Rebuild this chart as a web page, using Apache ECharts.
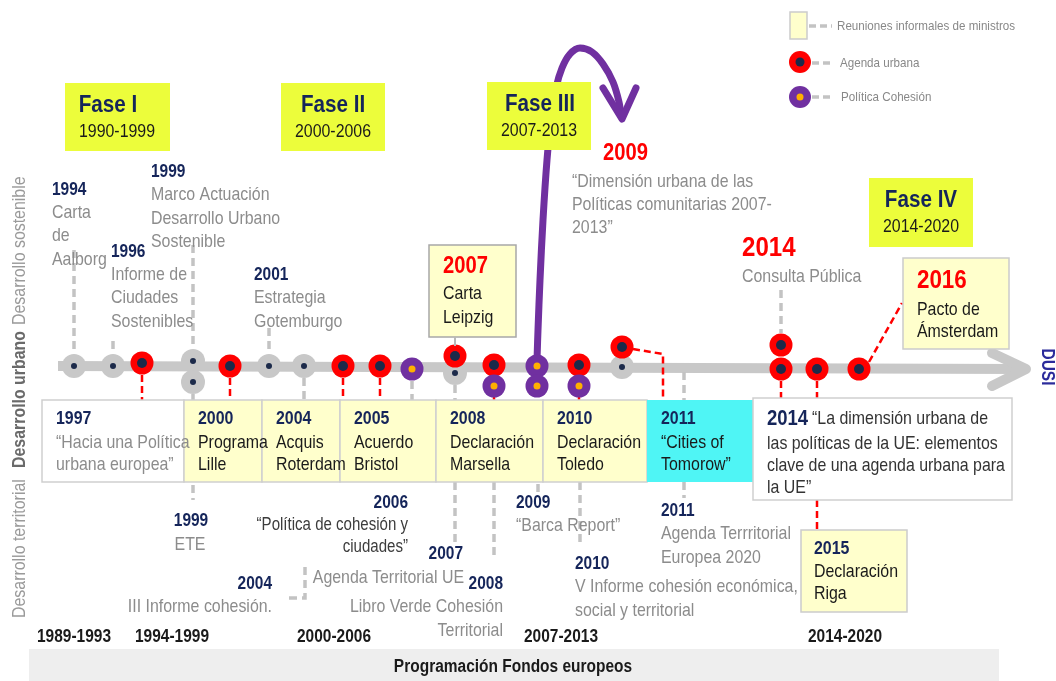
<!DOCTYPE html>
<html><head><meta charset="utf-8">
<script src="https://cdn.jsdelivr.net/npm/echarts@6/dist/echarts.min.js"></script>
<style>html,body{margin:0;padding:0;background:#fff}#c{width:1056px;height:681px}</style>
</head><body><div id="c"></div>
<script>
// ---- DATA (timeline positions along the drawing's own axes) ----
const timelineBar = [[58, 366], [1020, 369]];
const timelineArrow = [[992, 353], [1026, 369], [992, 386]];
const informalEvents = [[74,366],[113,366],[193,361],[193,382],[269,366],[304,366],[455,373],[622,367]];
const urbanAgendaEvents = [[142,363],[230,366],[343,366],[380,366],[455,356],[494,365],[579,365],[622,347],[781,345],[781,369],[817,369],[859,369]];
const cohesionEvents = [[412,369],[494,386],[537,366],[537,386],[579,386]];
const cohesionCurve = [[537,360],[538,330],[540,280],[543,220],[547,160],[551,120],[556,88],[562,68],[570,54],[580,48],[592,52],[603,64],[613,82],[619,102],[621,116]];
const cohesionArrowHead = [[603,88],[622,119],[636,88]];
const grayLinks = [
  [[74,250],[74,354]], [[113,341],[113,354]], [[193,245],[193,349]], [[269,328],[269,354]],
  [[193,394],[193,400]], [[304,378],[304,400]], [[412,381],[412,400]], [[455,385],[455,400]],
  [[193,485],[193,500]], [[455,482],[455,547]], [[494,482],[494,557]], [[538,484],[538,493]],
  [[580,482],[580,545]], [[684,372],[684,400]], [[684,482],[684,498]],
  [[781,290],[781,333]], [[305,567],[305,598],[285,598]]
];
const redLinks = [
  [[142,375],[142,400]], [[230,378],[230,400]], [[343,378],[343,400]], [[380,378],[380,400]],
  [[494,396],[494,400]], [[579,396],[579,400]], [[633,349],[663,354],[663,400]],
  [[781,381],[781,398]], [[817,381],[817,398]], [[817,500],[817,530]], [[869,362],[902,303]]
];
const phaseNames = ['Fase I', 'Fase II', 'Fase III', 'Fase IV'];
const phaseYears = ['1990-1999', '2000-2006', '2007-2013', '2014-2020'];
const periodLabels = ['1989-1993', '1994-1999', '2000-2006', '2007-2013', '2014-2020'];
const legendLabels = ['Reuniones informales de ministros', 'Agenda urbana', 'Política Cohesión'];
const bandLabel = 'Programación Fondos europeos';

// ---- STYLE / LAYOUT ----
const FF = "'Liberation Sans', Arial, sans-serif";
const SX = 0.86;
const NAVY = '#15255a', GRAY = '#8c8c8c', BLACK = '#1a1a1a', RED = '#ff0000', PURPLE = '#7030a0';
const BOXY = '#ffffcc', PHASE = '#ecfd3b', CYAN = '#4ff5f5';
function T(x, y, text, size, color, o) {
  o = o || {};
  const al = o.align || 'left';
  return { type: 'text', x: x, y: y, scaleX: o.sx || SX, rotation: o.rot || 0, z: 30,
    style: { text: text, fill: color, font: (o.bold ? 'bold ' : '') + size + 'px ' + FF,
      textAlign: al, align: al, textVerticalAlign: 'middle', verticalAlign: 'middle' } };
}
function L(x, y0, lh, arr, size, color, o) {
  return arr.map((s, i) => T(x, y0 + i * lh, s, size, color, o));
}
function R(x, y, w, h, fill, stroke, z) {
  return { type: 'rect', z: z || 20, shape: { x: x, y: y, width: w, height: h },
    style: { fill: fill, stroke: stroke || null, lineWidth: stroke ? 1.5 : 0 } };
}
function C(cx, cy, r, fill) { return { type: 'circle', z: 30, shape: { cx: cx, cy: cy, r: r }, style: { fill: fill } }; }
function DL(x1, y1, x2, y2) { return { type: 'line', z: 25, shape: { x1, y1, x2, y2 }, style: { stroke: '#c3c3c3', lineWidth: 3.5, lineDash: [7, 4] } }; }

const g = [];
// phase boxes
const phaseBoxes = [[65,83,105,68],[281,83,104,68],[487,82,104,68],[869,178,104,69]];
const phaseTitleX = [108, 333, 540, 921], phaseYearX = [117, 333, 539, 921];
phaseBoxes.forEach((b, i) => {
  g.push(R(b[0], b[1], b[2], b[3], PHASE, null, 40));
  const t1 = T(phaseTitleX[i], b[1] + 22, phaseNames[i], 24, NAVY, { bold: true, align: 'center' }); t1.z = 41; g.push(t1);
  const t2 = T(phaseYearX[i], b[1] + 49, phaseYears[i], 18.5, BLACK, { align: 'center' }); t2.z = 41; g.push(t2);
});
// legend
g.push(R(790, 12, 17, 27, BOXY, '#cccccc', 30));
g.push(DL(809, 26, 832, 26));
g.push(T(837, 26, legendLabels[0], 13.5, '#888', {}));
g.push(C(800, 62, 11, RED)); g.push(C(800, 62, 4.5, '#1c2a4a'));
g.push(DL(812, 63, 832, 63));
g.push(T(840, 63, legendLabels[1], 13.5, '#888', {}));
g.push(C(800, 97, 11, PURPLE)); g.push(C(800, 97, 3.5, '#ffb000'));
g.push(DL(812, 97, 832, 97));
g.push(T(841, 97, legendLabels[2], 13.5, '#888', {}));
// left vertical label
g.push(T(20, 618, 'Desarrollo territorial', 18.5, '#9a9a9a', { rot: Math.PI / 2 }));
g.push(T(20, 468, 'Desarrollo urbano', 18.5, '#6a6a6a', { rot: Math.PI / 2, bold: true }));
g.push(T(20, 325, 'Desarrollo sostenible', 18.5, '#9a9a9a', { rot: Math.PI / 2 }));
// DUSI
g.push(T(1047, 367, 'DUSI', 18, '#2b2b9b', { rot: -Math.PI / 2, bold: true, align: 'center' }));
// upper texts
g.push(T(52, 190, '1994', 18, NAVY, { bold: true }));
g.push(...L(52, 213, 23.3, ['Carta', 'de', 'Aalborg'], 18.5, GRAY));
g.push(T(111, 252, '1996', 18, NAVY, { bold: true }));
g.push(...L(111, 275, 23.3, ['Informe de', 'Ciudades', 'Sostenibles'], 18.5, GRAY));
g.push(T(151, 172, '1999', 18, NAVY, { bold: true }));
g.push(...L(151, 195, 23.5, ['Marco Actuación', 'Desarrollo Urbano', 'Sostenible'], 18.5, GRAY));
g.push(T(254, 275, '2001', 18, NAVY, { bold: true }));
g.push(...L(254, 298, 23.5, ['Estrategia', 'Gotemburgo'], 18.5, GRAY));
g.push(R(429, 245, 87, 92, BOXY, '#a8a8a8'));
g.push({ type: 'line', z: 25, shape: { x1: 455, y1: 337, x2: 455, y2: 346 }, style: { stroke: '#b8b8b8', lineWidth: 2 } });
g.push(T(443, 267, '2007', 23.5, RED, { bold: true }));
g.push(...L(443, 294, 24, ['Carta', 'Leipzig'], 18.5, BLACK));
g.push(T(603, 154, '2009', 23.5, RED, { bold: true }));
g.push(...L(572, 182, 23, ['“Dimensión urbana de las', 'Políticas comunitarias 2007-', '2013”'], 18.5, GRAY));
g.push(T(742, 248, '2014', 28, RED, { bold: true }));
g.push(T(742, 277, 'Consulta Pública', 18.5, GRAY));
g.push(R(903, 258, 106, 91, BOXY, '#cccccc'));
g.push(T(917, 281, '2016', 26, RED, { bold: true }));
g.push(...L(917, 310, 22, ['Pacto de', 'Ámsterdam'], 18.5, BLACK));
// lower boxes
const lowBoxes = [
  [42, 142, '#ffffff', '1997', ['“Hacia una Política', 'urbana europea”'], GRAY],
  [184, 78, BOXY, '2000', ['Programa', 'Lille'], BLACK],
  [262, 78, BOXY, '2004', ['Acquis', 'Roterdam'], BLACK],
  [340, 96, BOXY, '2005', ['Acuerdo', 'Bristol'], BLACK],
  [436, 107, BOXY, '2008', ['Declaración', 'Marsella'], BLACK],
  [543, 104, BOXY, '2010', ['Declaración', 'Toledo'], BLACK],
  [647, 106, CYAN, '2011', ['“Cities of', 'Tomorow”'], BLACK]
];
lowBoxes.forEach(b => {
  g.push(R(b[0], 400, b[1], 82, b[2], b[2] === CYAN ? null : '#cfcfcf'));
  g.push(T(b[0] + 14, 419, b[3], 18.5, NAVY, { bold: true }));
  g.push(...L(b[0] + 14, 443, 21.5, b[4], 18.5, b[5]));
});
g.push(R(753, 398, 259, 102, '#ffffff', '#cfcfcf'));
g.push(T(767, 419, '2014', 21.5, NAVY, { bold: true }));
g.push(T(812, 419, '“La dimensión urbana de', 18.5, '#333333'));
g.push(...L(767, 444, 22, ['las políticas de la UE: elementos', 'clave de una agenda urbana para', 'la UE”'], 18.5, '#333333'));
g.push(R(801, 530, 106, 82, BOXY, '#cccccc'));
g.push(T(814, 549, '2015', 18.5, NAVY, { bold: true }));
g.push(...L(814, 572, 22, ['Declaración', 'Riga'], 18.5, BLACK));
// lower texts
g.push(T(191, 521, '1999', 18, NAVY, { bold: true, align: 'center' }));
g.push(T(190, 545, 'ETE', 18.5, GRAY, { align: 'center' }));
g.push(T(408, 503, '2006', 18, NAVY, { bold: true, align: 'right' }));
g.push(...L(408, 525, 22, ['“Política de cohesión y', 'ciudades”'], 17.5, '#3c3c3c', { align: 'right' }));
g.push(T(272, 584, '2004', 18, NAVY, { bold: true, align: 'right' }));
g.push(T(272, 607, 'III Informe cohesión.', 18.5, GRAY, { align: 'right' }));
g.push(T(463, 554, '2007', 18, NAVY, { bold: true, align: 'right' }));
g.push(T(464, 578, 'Agenda Territorial UE', 18.5, GRAY, { align: 'right' }));
g.push(T(503, 584, '2008', 18, NAVY, { bold: true, align: 'right' }));
g.push(...L(503, 607, 23.5, ['Libro Verde Cohesión', 'Territorial'], 18.5, GRAY, { align: 'right' }));
g.push(T(516, 503, '2009', 18, NAVY, { bold: true }));
g.push(T(516, 526, '“Barca Report”', 18.5, GRAY));
g.push(T(575, 564, '2010', 18, NAVY, { bold: true }));
g.push(...L(575, 587, 23.5, ['V Informe cohesión económica,', 'social y territorial'], 18.5, GRAY));
g.push(T(661, 511, '2011', 18, NAVY, { bold: true }));
g.push(...L(661, 534, 23.5, ['Agenda Terrritorial', 'Europea 2020'], 18.5, GRAY));
// period labels and band
const periodX = [74, 172, 334, 561, 845];
periodLabels.forEach((p, i) => g.push(T(periodX[i], 637, p, 18, BLACK, { bold: true, align: 'center' })));
g.push(R(29, 649, 970, 32, '#eeeeee', null, 10));
g.push(T(513, 667, bandLabel, 18, BLACK, { bold: true, align: 'center' }));

const dashedLinks = (arr, color, width, dash) => ({
  type: 'lines', coordinateSystem: 'cartesian2d', polyline: true, silent: true,
  data: arr.map(c => ({ coords: c })), lineStyle: { color: color, width: width, type: dash, opacity: 1 }, z: 2
});
const dot = (data, size, color, z) => ({ type: 'scatter', data: data, symbol: 'circle', symbolSize: size, itemStyle: { color: color, opacity: 1 }, z: z, silent: true });

const chart = echarts.init(document.getElementById('c'));
chart.setOption({
  animation: false,
  backgroundColor: '#ffffff',
  grid: { left: 0, right: 0, top: 0, bottom: 0 },
  xAxis: { type: 'value', min: 0, max: 1056, show: false },
  yAxis: { type: 'value', min: 0, max: 681, inverse: true, show: false },
  series: [
    { type: 'line', data: timelineBar, symbol: 'none', lineStyle: { width: 10, color: '#c8c8c8' }, z: 1, silent: true },
    { type: 'line', data: timelineArrow, symbol: 'none', lineStyle: { width: 10, color: '#c8c8c8', cap: 'round', join: 'round' }, z: 1, silent: true },
    dashedLinks(grayLinks, '#c3c3c3', 3.5, [8, 5]),
    dashedLinks(redLinks, '#ff0000', 2.5, [7, 4]),
    { type: 'line', data: cohesionCurve, smooth: 0.35, symbol: 'none', lineStyle: { width: 7, color: PURPLE, cap: 'round' }, z: 3, silent: true },
    { type: 'line', data: cohesionArrowHead, symbol: 'none', lineStyle: { width: 7, color: PURPLE, cap: 'round', join: 'round' }, z: 3, silent: true },
    dot(informalEvents, 24, '#c8c8c8', 4),
    dot(informalEvents, 6, '#1c2a4a', 5),
    dot(urbanAgendaEvents, 23, '#ff0000', 6),
    dot(urbanAgendaEvents, 10, '#1c2a4a', 7),
    dot(cohesionEvents, 23, PURPLE, 8),
    dot(cohesionEvents, 7, '#ffb000', 9)
  ],
  graphic: { elements: g }
});
</script></body></html>
